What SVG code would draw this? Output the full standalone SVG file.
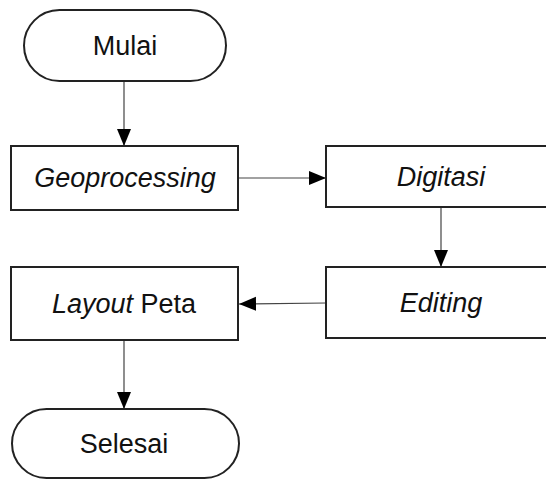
<svg xmlns="http://www.w3.org/2000/svg" width="546" height="479" viewBox="0 0 546 479">
<defs>
<marker id="ah" markerWidth="17" markerHeight="15" viewBox="0 0 17 14" refX="17" refY="7" orient="auto" markerUnits="userSpaceOnUse">
<path d="M0,0 L17,7 L0,14 Z" fill="#000"/>
</marker>
<style>
.shape{fill:#fff;stroke:#222;stroke-width:2}
.conn{fill:none;stroke:#444;stroke-width:1.2;marker-end:url(#ah)}
.t{font-family:"Liberation Sans",Arial,sans-serif;font-size:27px;fill:#111;text-anchor:middle}
.i{font-style:italic}
</style>
</defs>
<rect width="546" height="479" fill="#fff"/>
<g id="connectors">
<line class="conn" x1="124" y1="81" x2="124" y2="146"/>
<line class="conn" x1="238" y1="178" x2="326" y2="178"/>
<line class="conn" x1="441" y1="207" x2="441" y2="267"/>
<line class="conn" x1="326" y1="303" x2="239" y2="304"/>
<line class="conn" x1="124" y1="340" x2="124" y2="409"/>
</g>
<g id="mulai">
<rect class="shape" x="24" y="10" width="202" height="71" rx="35.5" ry="35.5"/>
<text class="t" x="125" y="55">Mulai</text>
</g>
<g id="geoprocessing">
<rect class="shape" x="11" y="146" width="227" height="64"/>
<text class="t i" x="125" y="187">Geoprocessing</text>
</g>
<g id="digitasi">
<rect class="shape" x="326" y="146" width="240" height="61"/>
<text class="t i" x="441" y="186">Digitasi</text>
</g>
<g id="editing">
<rect class="shape" x="326" y="267" width="240" height="71"/>
<text class="t i" x="441" y="312">Editing</text>
</g>
<g id="layout">
<rect class="shape" x="11" y="267" width="227" height="73"/>
<text class="t" x="124" y="313"><tspan class="i">Layout</tspan> Peta</text>
</g>
<g id="selesai">
<rect class="shape" x="12" y="409" width="227" height="69" rx="34.5" ry="34.5"/>
<text class="t" x="124" y="453">Selesai</text>
</g>
</svg>
